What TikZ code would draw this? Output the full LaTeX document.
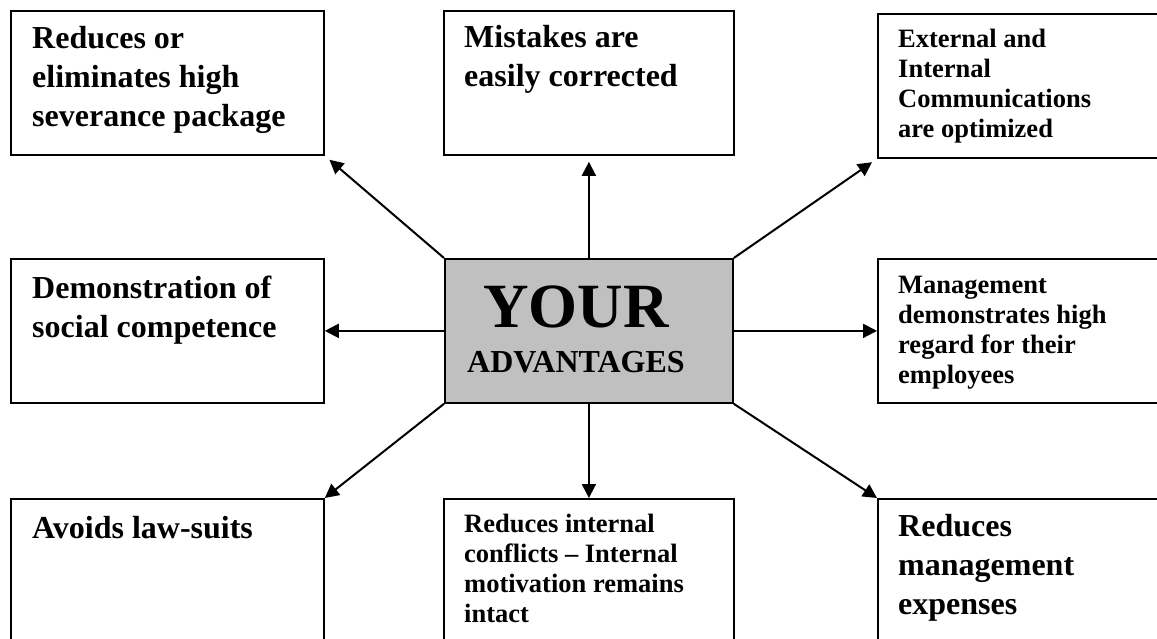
\documentclass[tikz,border=0pt]{standalone}
\usepackage{fontspec}
\setmainfont{Liberation Serif}
\usetikzlibrary{arrows.meta}
\definecolor{boxgray}{RGB}{192,192,192}
\begin{document}
\begin{tikzpicture}[x=1pt,y=-1pt,
  box/.style={draw,line width=1.8pt,anchor=north west,inner sep=0pt},
  big/.style={anchor=base west,align=left,inner sep=0pt,font=\bfseries\fontsize{32}{39}\selectfont},
  small/.style={anchor=base west,align=left,inner sep=0pt,font=\bfseries\fontsize{26.5}{30}\selectfont},
  arr/.style={line width=2pt,-{Triangle[length=14pt,width=14pt]}},
  short/.style={shorten >=6pt}]
\useasboundingbox (0,0) rectangle (1157,639);
\clip (0,0) rectangle (1157,639);
% boxes
\node[box,minimum width=313pt,minimum height=144pt] (tl) at (10,10) {};
\node[box,minimum width=290pt,minimum height=144pt] (tm) at (443,10) {};
\node[box,minimum width=300pt,minimum height=144pt] (tr) at (877,13) {};
\node[box,minimum width=313pt,minimum height=144pt] (ml) at (10,258) {};
\node[box,fill=boxgray,minimum width=288pt,minimum height=144pt] (c) at (444,258) {};
\node[box,minimum width=300pt,minimum height=144pt] (mr) at (877,258) {};
\node[box,minimum width=313pt,minimum height=170pt] (bl) at (10,498) {};
\node[box,minimum width=290pt,minimum height=170pt] (bm) at (443,498) {};
\node[box,minimum width=300pt,minimum height=170pt] (br) at (877,498) {};
% texts (base = baseline of the last line)
\node[big] (ttl) at (32,127) {Reduces or\\eliminates high\\severance package};
\node[big] (ttm) at (464,87) {Mistakes are\\easily corrected};
\node[small] (ttr) at (898,138) {External and\\Internal\\Communications\\are optimized};
\node[big] (tml) at (32,337) {Demonstration of\\social competence};
\node[small] (tmr) at (898,383) {Management\\demonstrates high\\regard for their\\employees};
\node[big] (tbl) at (32,538) {Avoids law-suits};
\node[small] (tbm) at (464,622) {Reduces internal\\conflicts -- Internal\\motivation remains\\intact};
\node[big] (tbr) at (898,614) {Reduces\\management\\expenses};
\node[anchor=base,inner sep=0pt,font=\bfseries\fontsize{63}{70}\selectfont] (your) at (576,327) {YOUR};
\node[anchor=base,inner sep=0pt,font=\bfseries\fontsize{32}{38}\selectfont] (adv) at (576,372) {ADVANTAGES};
% arrows
\draw[arr,short] (c.north west) -- (tl.south east);
\draw[arr,short] (c.north) -- (c.north |- tm.south);
\draw[arr,short] (c.north east) -- (tr.south west);
\draw[arr] (c.west) -- (c.west -| ml.east);
\draw[arr] (c.east) -- (c.east -| mr.west);
\draw[arr] (c.south west) -- (bl.north east);
\draw[arr] (c.south) -- (c.south |- bm.north);
\draw[arr] (c.south east) -- (br.north west);
\end{tikzpicture}
\end{document}
